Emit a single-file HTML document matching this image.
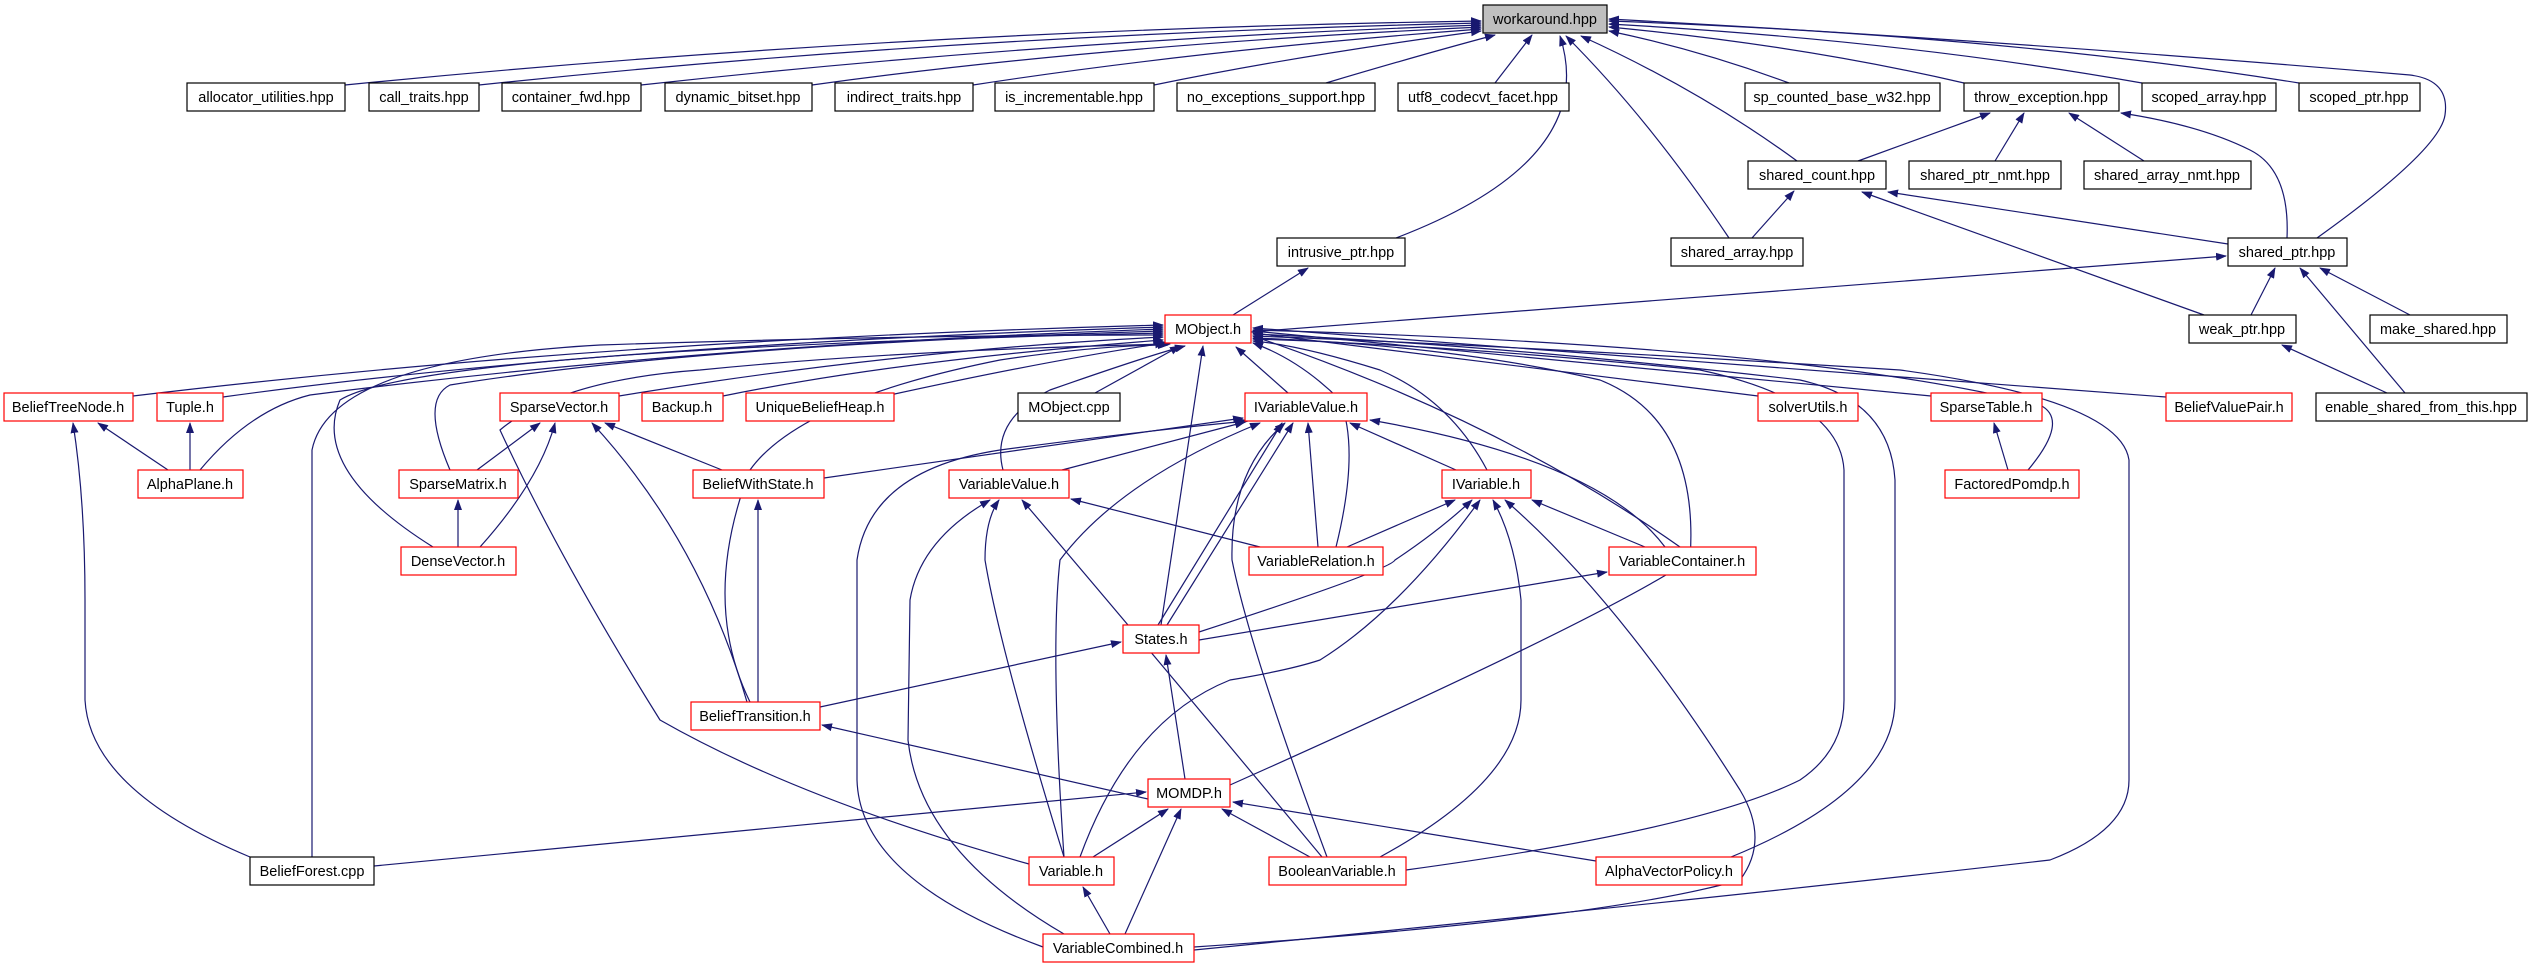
<!DOCTYPE html>
<html><head><meta charset="utf-8"><style>
html,body{margin:0;padding:0;background:#fff;}
svg{display:block;}
text{font-family:"Liberation Sans",sans-serif;font-size:14.5px;text-anchor:middle;fill:#000;}
.e{fill:none;stroke:#191970;stroke-width:1.2;marker-end:url(#a);}
.k{fill:#fff;stroke:#000;stroke-width:1.2;}
.r{fill:#fff;stroke:#ff0000;stroke-width:1.2;}
</style></head><body>
<svg width="2532" height="968" viewBox="0 0 2532 968" xmlns="http://www.w3.org/2000/svg">
<defs><marker id="a" markerWidth="11" markerHeight="8" refX="10" refY="4" orient="auto" markerUnits="userSpaceOnUse"><path d="M0,0 L11,4 L0,8 z" fill="#191970"/></marker></defs>

<path class="e" d="M345,85 Q900,30 1481,21"/>
<path class="e" d="M479,85 Q950,35 1481,23"/>
<path class="e" d="M641,85 Q1050,40 1481,25"/>
<path class="e" d="M812,85 Q1100,45 1481,27"/>
<path class="e" d="M973,85 Q1200,50 1481,29"/>
<path class="e" d="M1154,85 Q1300,55 1481,31"/>
<path class="e" d="M1326,83 Q1420,55 1495,35"/>
<path class="e" d="M1495,83 L1532,35"/>
<path class="e" d="M1789,83 Q1700,50 1609,31"/>
<path class="e" d="M1964,83 Q1800,45 1609,27"/>
<path class="e" d="M2142,83 Q1900,40 1609,24"/>
<path class="e" d="M2299,83 Q2000,35 1609,21"/>
<path class="e" d="M2317,238 Q2440,150 2445,115 Q2450,80 2410,75 Q2000,40 1609,19"/>
<path class="e" d="M1797,161 Q1700,90 1581,36"/>
<path class="e" d="M1729,238 Q1650,120 1566,36"/>
<path class="e" d="M1396,238 Q1600,160 1560,36"/>

<path class="e" d="M1858,161 L1990,113"/>
<path class="e" d="M1995,161 L2024,113"/>
<path class="e" d="M2144,161 L2069,113"/>
<path class="e" d="M2287,238 Q2290,170 2250,150 Q2200,125 2121,113"/>
<path class="e" d="M1752,238 L1794,191"/>
<path class="e" d="M2228,244 L1888,192"/>
<path class="e" d="M2204,315 L1862,192"/>
<path class="e" d="M1251,332 L2226,256"/>
<path class="e" d="M1233,315 L1308,268"/>
<path class="e" d="M2251,315 L2275,268"/>
<path class="e" d="M2410,315 L2320,268"/>
<path class="e" d="M2405,393 L2300,268"/>
<path class="e" d="M2387,393 L2282,345"/>

<path class="e" d="M133,396 Q600,340 1163,325"/>
<path class="e" d="M223,397 Q600,345 1163,327"/>
<path class="e" d="M200,470 Q250,410 310,395 Q700,345 1163,329"/>
<path class="e" d="M450,470 Q420,400 450,385 Q700,345 1163,331"/>
<path class="e" d="M433,547 Q310,470 340,400 Q420,350 1163,333"/>
<path class="e" d="M312,857 L312,450 Q330,360 600,345 Q900,335 1163,335"/>
<path class="e" d="M619,396 Q900,350 1163,337"/>
<path class="e" d="M723,396 Q900,360 1163,340"/>
<path class="e" d="M890,395 Q1050,360 1165,343"/>
<path class="e" d="M750,702 Q700,600 750,470 Q800,400 1000,360 Q1100,345 1168,345"/>
<path class="e" d="M1095,393 L1180,346"/>
<path class="e" d="M1288,393 L1236,347"/>
<path class="e" d="M1003,470 Q990,420 1050,390 Q1150,355 1185,346"/>
<path class="e" d="M1161,625 L1203,346"/>
<path class="e" d="M1029,864 Q800,800 660,720 Q560,560 500,430 Q560,380 700,370 Q900,350 1170,344"/>
<path class="e" d="M1230,785 Q1600,620 1690,560 Q1700,420 1600,380 Q1450,345 1253,338"/>
<path class="e" d="M1487,470 Q1450,400 1380,370 Q1300,345 1253,341"/>
<path class="e" d="M1680,547 Q1500,420 1253,336"/>
<path class="e" d="M1336,547 Q1360,450 1340,400 Q1300,360 1253,343"/>
<path class="e" d="M1758,396 L1253,333"/>
<path class="e" d="M1931,396 L1253,331"/>
<path class="e" d="M2166,397 L1253,328"/>
<path class="e" d="M2028,470 Q2070,420 2040,405 Q1800,345 1253,330"/>
<path class="e" d="M1731,857 Q1895,790 1895,700 L1895,480 Q1890,400 1800,380 Q1500,345 1253,334"/>
<path class="e" d="M1194,950 Q1700,900 2050,860 Q2129,830 2129,780 L2129,460 Q2120,400 1900,370 Q1500,345 1253,336"/>
<path class="e" d="M1406,870 Q1700,830 1800,780 Q1844,750 1844,700 L1844,470 Q1840,400 1700,370 Q1450,345 1253,339"/>

<path class="e" d="M824,478 L1243,418"/>
<path class="e" d="M1062,470 L1245,422"/>
<path class="e" d="M1318,547 L1308,423"/>
<path class="e" d="M1158,625 L1282,423"/>
<path class="e" d="M1167,625 L1293,423"/>
<path class="e" d="M1064,857 Q1050,650 1060,560 Q1120,480 1260,423"/>
<path class="e" d="M1327,857 Q1250,650 1232,560 Q1230,470 1285,423"/>
<path class="e" d="M1456,470 L1350,423"/>
<path class="e" d="M1665,547 Q1600,460 1370,420"/>
<path class="e" d="M1043,947 Q860,880 857,780 L857,560 Q870,470 1000,450 Q1150,430 1248,421"/>
<path class="e" d="M1260,547 L1071,499"/>
<path class="e" d="M1064,857 Q1000,650 985,560 Q985,520 999,500"/>
<path class="e" d="M1322,857 Q1150,650 1022,500"/>
<path class="e" d="M1064,934 Q920,850 908,740 L910,600 Q920,540 990,500"/>
<path class="e" d="M1347,547 L1455,500"/>
<path class="e" d="M1645,547 L1532,500"/>
<path class="e" d="M1199,632 Q1390,570 1395,560 Q1440,530 1472,500"/>
<path class="e" d="M1199,640 L1607,572"/>
<path class="e" d="M1080,857 Q1130,720 1230,680 Q1290,670 1320,660 Q1400,610 1480,500"/>
<path class="e" d="M1380,857 Q1521,780 1521,700 L1521,600 Q1515,540 1493,500"/>
<path class="e" d="M1194,947 Q1600,920 1740,880 Q1770,840 1740,790 Q1620,600 1505,500"/>
<path class="e" d="M1185,779 L1166,655"/>
<path class="e" d="M820,707 L1121,642"/>
<path class="e" d="M758,702 L758,500"/>
<path class="e" d="M747,702 Q700,540 592,423"/>
<path class="e" d="M1148,799 L822,725"/>
<path class="e" d="M1093,857 L1168,809"/>
<path class="e" d="M1125,934 L1181,809"/>
<path class="e" d="M1310,857 L1222,809"/>
<path class="e" d="M1596,861 L1233,802"/>
<path class="e" d="M374,866 L1146,792"/>
<path class="e" d="M1110,934 L1083,887"/>
<path class="e" d="M250,857 Q90,790 85,700 L85,600 Q85,500 73,423"/>
<path class="e" d="M168,470 L98,423"/>
<path class="e" d="M190,470 L190,423"/>
<path class="e" d="M477,470 L540,423"/>
<path class="e" d="M480,547 Q540,480 555,423"/>
<path class="e" d="M458,547 L458,500"/>
<path class="e" d="M722,470 L605,423"/>
<path class="e" d="M2008,470 L1994,423"/>

<rect x="1483" y="5" width="124" height="28" fill="#bfbfbf" stroke="#000" stroke-width="1.2"/><text x="1545" y="24">workaround.hpp</text>
<g>
<rect class="k" x="187" y="83" width="158" height="28"/><text x="266" y="102">allocator_utilities.hpp</text>
<rect class="k" x="369" y="83" width="110" height="28"/><text x="424" y="102">call_traits.hpp</text>
<rect class="k" x="502" y="83" width="139" height="28"/><text x="571" y="102">container_fwd.hpp</text>
<rect class="k" x="665" y="83" width="147" height="28"/><text x="738" y="102">dynamic_bitset.hpp</text>
<rect class="k" x="835" y="83" width="138" height="28"/><text x="904" y="102">indirect_traits.hpp</text>
<rect class="k" x="995" y="83" width="159" height="28"/><text x="1074" y="102">is_incrementable.hpp</text>
<rect class="k" x="1177" y="83" width="198" height="28"/><text x="1276" y="102">no_exceptions_support.hpp</text>
<rect class="k" x="1398" y="83" width="171" height="28"/><text x="1483" y="102">utf8_codecvt_facet.hpp</text>
<rect class="k" x="1745" y="83" width="195" height="28"/><text x="1842" y="102">sp_counted_base_w32.hpp</text>
<rect class="k" x="1964" y="83" width="155" height="28"/><text x="2041" y="102">throw_exception.hpp</text>
<rect class="k" x="2142" y="83" width="134" height="28"/><text x="2209" y="102">scoped_array.hpp</text>
<rect class="k" x="2299" y="83" width="121" height="28"/><text x="2359" y="102">scoped_ptr.hpp</text>
<rect class="k" x="1748" y="161" width="138" height="28"/><text x="1817" y="180">shared_count.hpp</text>
<rect class="k" x="1909" y="161" width="152" height="28"/><text x="1985" y="180">shared_ptr_nmt.hpp</text>
<rect class="k" x="2084" y="161" width="167" height="28"/><text x="2167" y="180">shared_array_nmt.hpp</text>
<rect class="k" x="1277" y="238" width="128" height="28"/><text x="1341" y="257">intrusive_ptr.hpp</text>
<rect class="k" x="1671" y="238" width="132" height="28"/><text x="1737" y="257">shared_array.hpp</text>
<rect class="k" x="2228" y="238" width="119" height="28"/><text x="2287" y="257">shared_ptr.hpp</text>
<rect class="r" x="1165" y="315" width="86" height="28"/><text x="1208" y="334">MObject.h</text>
<rect class="k" x="2189" y="315" width="107" height="28"/><text x="2242" y="334">weak_ptr.hpp</text>
<rect class="k" x="2370" y="315" width="137" height="28"/><text x="2438" y="334">make_shared.hpp</text>
<rect class="r" x="4" y="393" width="129" height="28"/><text x="68" y="412">BeliefTreeNode.h</text>
<rect class="r" x="157" y="393" width="66" height="28"/><text x="190" y="412">Tuple.h</text>
<rect class="r" x="500" y="393" width="119" height="28"/><text x="559" y="412">SparseVector.h</text>
<rect class="r" x="642" y="393" width="81" height="28"/><text x="682" y="412">Backup.h</text>
<rect class="r" x="746" y="393" width="148" height="28"/><text x="820" y="412">UniqueBeliefHeap.h</text>
<rect class="k" x="1018" y="393" width="102" height="28"/><text x="1069" y="412">MObject.cpp</text>
<rect class="r" x="1245" y="393" width="122" height="28"/><text x="1306" y="412">IVariableValue.h</text>
<rect class="r" x="1758" y="393" width="100" height="28"/><text x="1808" y="412">solverUtils.h</text>
<rect class="r" x="1931" y="393" width="111" height="28"/><text x="1986" y="412">SparseTable.h</text>
<rect class="r" x="2166" y="393" width="126" height="28"/><text x="2229" y="412">BeliefValuePair.h</text>
<rect class="k" x="2316" y="393" width="211" height="28"/><text x="2421" y="412">enable_shared_from_this.hpp</text>
<rect class="r" x="138" y="470" width="105" height="28"/><text x="190" y="489">AlphaPlane.h</text>
<rect class="r" x="399" y="470" width="119" height="28"/><text x="458" y="489">SparseMatrix.h</text>
<rect class="r" x="693" y="470" width="131" height="28"/><text x="758" y="489">BeliefWithState.h</text>
<rect class="r" x="949" y="470" width="120" height="28"/><text x="1009" y="489">VariableValue.h</text>
<rect class="r" x="1442" y="470" width="89" height="28"/><text x="1486" y="489">IVariable.h</text>
<rect class="r" x="1945" y="470" width="134" height="28"/><text x="2012" y="489">FactoredPomdp.h</text>
<rect class="r" x="401" y="547" width="115" height="28"/><text x="458" y="566">DenseVector.h</text>
<rect class="r" x="1249" y="547" width="134" height="28"/><text x="1316" y="566">VariableRelation.h</text>
<rect class="r" x="1609" y="547" width="147" height="28"/><text x="1682" y="566">VariableContainer.h</text>
<rect class="r" x="1123" y="625" width="76" height="28"/><text x="1161" y="644">States.h</text>
<rect class="r" x="691" y="702" width="129" height="28"/><text x="755" y="721">BeliefTransition.h</text>
<rect class="r" x="1148" y="779" width="82" height="28"/><text x="1189" y="798">MOMDP.h</text>
<rect class="k" x="250" y="857" width="124" height="28"/><text x="312" y="876">BeliefForest.cpp</text>
<rect class="r" x="1029" y="857" width="85" height="28"/><text x="1071" y="876">Variable.h</text>
<rect class="r" x="1269" y="857" width="137" height="28"/><text x="1337" y="876">BooleanVariable.h</text>
<rect class="r" x="1596" y="857" width="146" height="28"/><text x="1669" y="876">AlphaVectorPolicy.h</text>
<rect class="r" x="1043" y="934" width="151" height="28"/><text x="1118" y="953">VariableCombined.h</text>
</g>
</svg>
</body></html>
